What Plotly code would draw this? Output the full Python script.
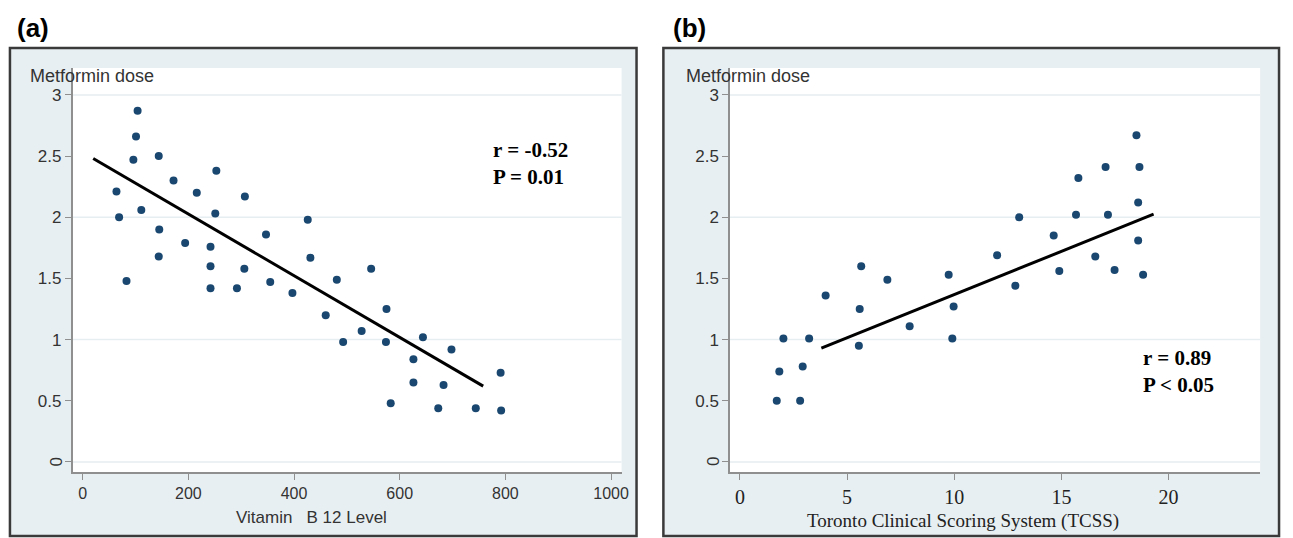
import plotly.graph_objects as go

W, H = 1293, 538

# ---------------- data: panel (a) ----------------
b12_level = [104, 101, 96, 144, 64, 69, 111, 83, 172, 253, 216, 251, 145, 144, 194,
             242, 242, 242, 292, 307, 306, 347, 355, 397, 426, 431, 481, 546, 460, 575,
             528, 493, 574, 644, 626, 698, 626, 683, 583, 673, 744, 791, 792]
dose_a = [2.87, 2.66, 2.47, 2.50, 2.21, 2.00, 2.06, 1.48, 2.30, 2.38, 2.20, 2.03, 1.90, 1.68, 1.79,
          1.76, 1.60, 1.42, 1.42, 2.17, 1.58, 1.86, 1.47, 1.38, 1.98, 1.67, 1.49, 1.58, 1.20, 1.25,
          1.07, 0.98, 0.98, 1.02, 0.84, 0.92, 0.65, 0.63, 0.48, 0.44, 0.44, 0.73, 0.42]
fit_a_x = [20, 758]
fit_a_y = [2.48, 0.62]

# ---------------- data: panel (b) ----------------
tcss = [1.72, 2.81, 1.84, 2.93, 2.03, 3.23, 4.0, 5.55, 5.59, 5.66, 6.88, 7.92, 9.91, 9.97, 9.74,
        12.0, 12.85, 13.03, 14.64, 14.9, 15.68, 15.79, 16.58, 17.06, 17.17, 17.48, 18.5, 18.64,
        18.58, 18.58, 18.81]
dose_b = [0.50, 0.50, 0.74, 0.78, 1.01, 1.01, 1.36, 0.95, 1.25, 1.60, 1.49, 1.11, 1.01, 1.27, 1.53,
          1.69, 1.44, 2.00, 1.85, 1.56, 2.02, 2.32, 1.68, 2.41, 2.02, 1.57, 2.67, 2.41,
          2.12, 1.81, 1.53]
fit_b_x = [3.8, 19.3]
fit_b_y = [0.93, 2.025]

# ---------------- ticks / labels ----------------
y_ticks = [0, 0.5, 1, 1.5, 2, 2.5, 3]
y_tick_text = ["", "0.5", "1", "1.5", "2", "2.5", "3"]
grid_levels = [0, 1, 2, 3]
x_ticks_a = [0, 200, 400, 600, 800, 1000]
x_ticks_b = [0, 5, 10, 15, 20]
stats_a = ["r = -0.52", "P = 0.01"]
stats_b = ["r = 0.89", "P < 0.05"]

NAVY = "#1a476f"
FRAME_BG = "#e8eff2"
AXIS_GRAY = "#8f8f8f"
TXT = "#333333"
SANS = "Liberation Sans, Arial, sans-serif"
SERIF = "Liberation Serif, Times New Roman, serif"


def px(x):
    return x / W


def py(y):
    return 1 - y / H


fig = go.Figure()

fig.add_trace(go.Scatter(x=b12_level, y=dose_a, mode="markers",
                         marker=dict(color=NAVY, size=8), xaxis="x", yaxis="y",
                         showlegend=False))
fig.add_trace(go.Scatter(x=fit_a_x, y=fit_a_y, mode="lines",
                         line=dict(color="black", width=3), xaxis="x", yaxis="y",
                         showlegend=False))
fig.add_trace(go.Scatter(x=tcss, y=dose_b, mode="markers",
                         marker=dict(color=NAVY, size=8), xaxis="x2", yaxis="y2",
                         showlegend=False))
fig.add_trace(go.Scatter(x=fit_b_x, y=fit_b_y, mode="lines",
                         line=dict(color="black", width=3), xaxis="x2", yaxis="y2",
                         showlegend=False))

ydom = [py(472), py(68)]
common_y = dict(range=[-0.082, 3.22], tickvals=y_ticks, ticktext=y_tick_text,
                showgrid=False, zeroline=False, showline=True, linecolor=AXIS_GRAY,
                linewidth=1.5, ticks="outside", ticklen=6, tickcolor=AXIS_GRAY,
                tickfont=dict(family=SANS, size=17, color=TXT), domain=ydom, fixedrange=True)

fig.update_layout(
    width=W, height=H,
    margin=dict(l=0, r=0, t=0, b=0),
    paper_bgcolor="white",
    plot_bgcolor="rgba(0,0,0,0)",
    xaxis=dict(domain=[px(73), px(625)], range=[-19, 1020], tickvals=x_ticks_a,
               showgrid=False, zeroline=False, showline=True, linecolor=AXIS_GRAY,
               linewidth=1.5, ticks="outside", ticklen=6, tickcolor=AXIS_GRAY,
               tickfont=dict(family=SANS, size=16, color=TXT), anchor="y"),
    yaxis=dict(anchor="x", **common_y),
    xaxis2=dict(domain=[px(734), px(1267)], range=[-0.46, 24.27], tickvals=x_ticks_b,
                showgrid=False, zeroline=False, showline=True, linecolor=AXIS_GRAY,
                linewidth=1.5, ticks="outside", ticklen=6, tickcolor=AXIS_GRAY,
                tickfont=dict(family=SERIF, size=20, color="#222222"), anchor="y2"),
    yaxis2=dict(anchor="x2", **common_y),
)

shapes = []
# outer frames
for x0, x1 in [(10, 640), (667, 1286)]:
    shapes.append(dict(type="rect", xref="paper", yref="paper", x0=px(x0), x1=px(x1),
                       y0=py(536), y1=py(48), fillcolor=FRAME_BG,
                       line=dict(color="#3a3a3a", width=2.5), layer="below"))
# white plot regions and integer gridlines
for xr, yr in [("x", "y"), ("x2", "y2")]:
    shapes.append(dict(type="rect", xref=xr + " domain", yref=yr + " domain",
                       x0=0, x1=1, y0=0, y1=1, fillcolor="white",
                       line=dict(width=0), layer="below"))
    for g in grid_levels:
        shapes.append(dict(type="line", xref=xr + " domain", yref=yr, x0=0, x1=1,
                           y0=g, y1=g, line=dict(color="#e6eef1", width=1.5),
                           layer="below"))
fig.update_layout(shapes=shapes)

ann = []
ann.append(dict(text="<b>(a)</b>", x=px(15), y=py(28), xref="paper", yref="paper",
                xanchor="left", yanchor="middle", showarrow=False,
                font=dict(family=SANS, size=26, color="black")))
ann.append(dict(text="<b>(b)</b>", x=px(675), y=py(28), xref="paper", yref="paper",
                xanchor="left", yanchor="middle", showarrow=False,
                font=dict(family=SANS, size=26, color="black")))
for xl in [28, 688]:
    ann.append(dict(text="Metformin dose", x=px(xl), y=py(76), xref="paper", yref="paper",
                    xanchor="left", yanchor="middle", showarrow=False,
                    font=dict(family=SANS, size=18, color=TXT)))
ann.append(dict(text="Vitamin\u00a0\u00a0\u00a0B 12 Level", x=px(313), y=py(517),
                xref="paper", yref="paper", xanchor="center", yanchor="middle",
                showarrow=False, font=dict(family=SANS, size=17, color=TXT)))
ann.append(dict(text="Toronto Clinical Scoring System (TCSS)", x=px(968), y=py(521),
                xref="paper", yref="paper", xanchor="center", yanchor="middle",
                showarrow=False, font=dict(family=SERIF, size=19, color="#222222")))
for (xl, yc, lines) in [(494, 163.5, stats_a), (1147, 371.5, stats_b)]:
    ann.append(dict(text="<br>".join("<b>" + t + "</b>" for t in lines),
                    x=px(xl), y=py(yc), xref="paper", yref="paper",
                    xanchor="left", yanchor="middle", align="left", showarrow=False,
                    font=dict(family=SERIF, size=21, color="black")))
# rotated zero labels
for xr, yr in [("x", "y"), ("x2", "y2")]:
    ann.append(dict(text="0", x=0, y=0, xref=xr + " domain", yref=yr, xanchor="center",
                    yanchor="middle", xshift=-16, textangle=-90, showarrow=False,
                    font=dict(family=SANS, size=17, color=TXT)))
fig.update_layout(annotations=ann)

fig.write_html("out.html", config={"displayModeBar": False},
               post_script="document.body.style.margin='0';document.body.style.padding='0';")
